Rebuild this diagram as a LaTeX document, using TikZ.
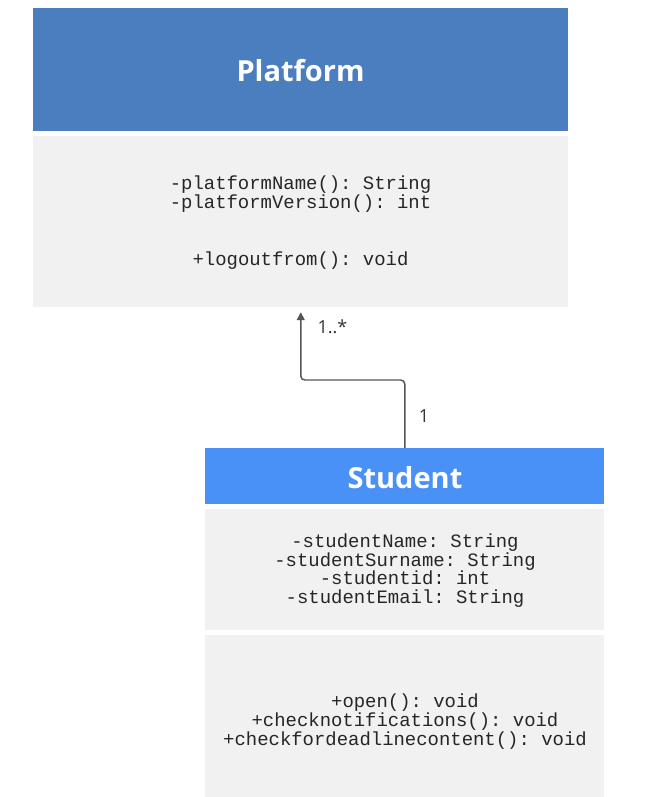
\documentclass[tikz,border=0pt]{standalone}
\usepackage{fontspec}
\setmainfont{Open Sans}
\setmonofont{Liberation Mono}
\usetikzlibrary{arrows.meta}
\definecolor{phead}{HTML}{4A7EBF}
\definecolor{shead}{HTML}{4A91F7}
\definecolor{bodyg}{HTML}{F1F1F1}
\definecolor{lineg}{HTML}{555555}
\definecolor{labc}{HTML}{333333}
\tikzset{
  headbox/.style={draw=none, inner sep=0pt, anchor=north west},
  bodybox/.style={fill=bodyg, draw=none, inner sep=0pt, anchor=north west},
  titletext/.style={text=white, font=\fontsize{21.75}{26}\selectfont\bfseries},
  monotext/.style={text=black!85, align=center, font=\ttfamily\fontsize{14.2}{14.1}\selectfont},
  multlabel/.style={text=labc, font=\fontsize{13.5}{16}\selectfont},
  conn/.style={draw=lineg, line width=1.1pt, rounded corners=3pt, -{Triangle[length=6pt,width=6pt]}}
}
\begin{document}
\begin{tikzpicture}[x=0.75pt,y=-0.75pt]
\useasboundingbox (0,0) rectangle (651,797);
% Platform
\node[headbox, fill=phead, minimum width=535*0.75pt, minimum height=123*0.75pt] (ph) at (33,8) {};
\node[bodybox, minimum width=535*0.75pt, minimum height=171*0.75pt] (pb) at (33,136) {};
\node[titletext] (pt) at (300.5,70.5) {Platform};
\node[monotext] (pattr) at (300.5,194) {-platformName(): String\\-platformVersion(): int};
\node[monotext] (pmeth) at (300.5,260.5) {+logoutfrom(): void};
% Student
\node[headbox, fill=shead, minimum width=399*0.75pt, minimum height=56*0.75pt] (sh) at (205,448) {};
\node[bodybox, minimum width=399*0.75pt, minimum height=121*0.75pt] (sa) at (205,509) {};
\node[bodybox, minimum width=399*0.75pt, minimum height=162*0.75pt] (sm) at (205,635) {};
\node[titletext] (st) at (405,477.5) {Student};
\node[monotext] (sattr) at (405,570.5) {-studentName: String\\-studentSurname: String\\-studentid: int\\-studentEmail: String};
\node[monotext] (smeth) at (405,721.5) {+open(): void\\+checknotifications(): void\\+checkfordeadlinecontent(): void};
% connector
\draw[conn, shorten >=3.5pt] (sh.north) -- ++(0,-68) -| (pb.south);
\node[multlabel] (m1) at (332.5,327) {1..*};
\node[multlabel] (m2) at (424,416) {1};
\end{tikzpicture}
\end{document}
